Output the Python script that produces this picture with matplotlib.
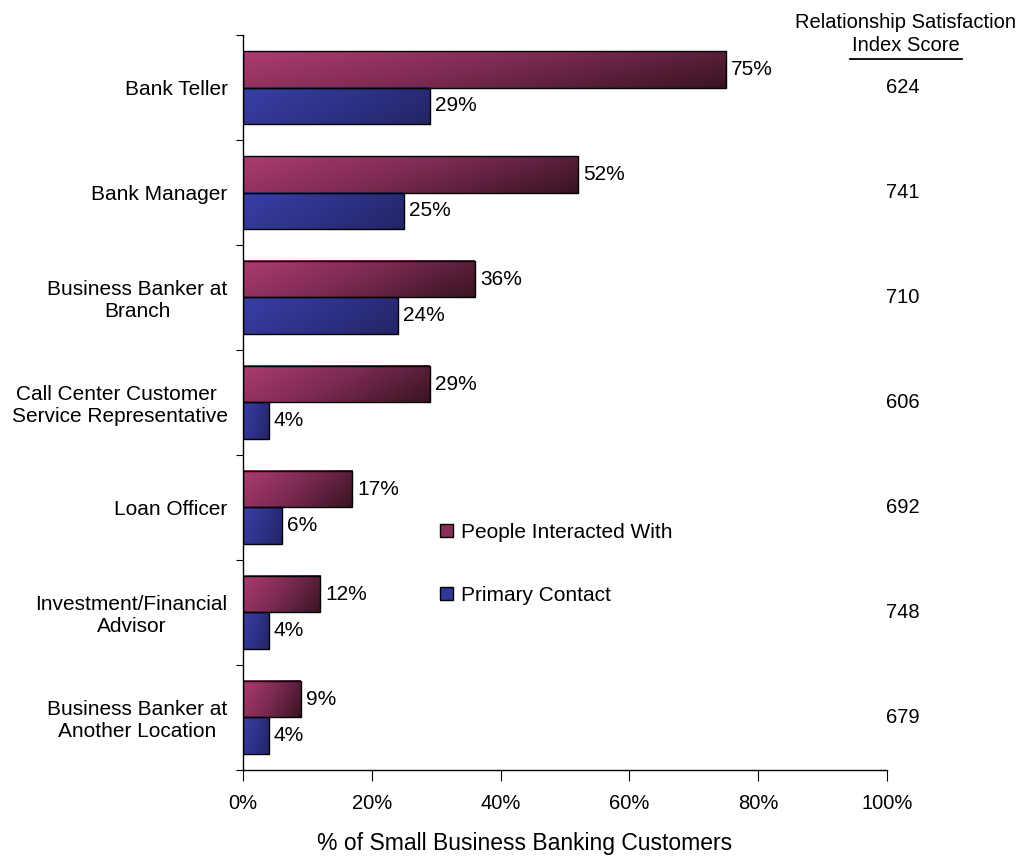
import numpy as np
import matplotlib
matplotlib.use("Agg")
import matplotlib.pyplot as plt
from matplotlib.colors import LinearSegmentedColormap
from matplotlib.patches import Patch

plt.rcParams['font.family'] = ['Liberation Sans', 'DejaVu Sans']

categories = ["Bank Teller", "Bank Manager", "Business Banker at\nBranch",
              "Call Center Customer \nService Representative", "Loan Officer",
              "Investment/Financial\nAdvisor", "Business Banker at\nAnother Location"]
people = [75, 52, 36, 29, 17, 12, 9]
primary = [29, 25, 24, 4, 6, 4, 4]
scores = [624, 741, 710, 606, 692, 748, 679]
xticks = [0, 20, 40, 60, 80, 100]

mag_cmap = LinearSegmentedColormap.from_list("mag", ["#ab3b70", "#7a2a50", "#3a1424"])
blue_cmap = LinearSegmentedColormap.from_list("blu", ["#393fa6", "#2e3288", "#242567"])

fig = plt.figure(figsize=(10.26, 8.56), dpi=100)
ax = fig.add_axes([0.2368, 0.1005, 0.6277, 0.8586])

n = len(categories)
ypos = np.arange(n)[::-1]
h = 0.345

gx, gy = np.meshgrid(np.linspace(0, 1, 64), np.linspace(0, 1, 16))
grad = 0.75 * gx + 0.25 * (1 - gy)


def grad_bar(x, yc, cmap):
    ax.imshow(grad, extent=[0, x, yc - h / 2, yc + h / 2], origin='lower',
              aspect='auto', cmap=cmap, vmin=0, vmax=1, zorder=2)
    ax.barh(yc, x, height=h, facecolor='none', edgecolor='black',
            linewidth=1.0, zorder=3)


for i in range(n):
    ym = ypos[i] + h / 2
    yb = ypos[i] - h / 2
    grad_bar(people[i], ym, mag_cmap)
    grad_bar(primary[i], yb, blue_cmap)
    ax.text(people[i] + 0.8, ym, f"{people[i]}%", va='center', ha='left', fontsize=15)
    ax.text(primary[i] + 0.8, yb, f"{primary[i]}%", va='center', ha='left', fontsize=15)

ax.set_xlim(0, 100)
ax.set_ylim(-0.5, n - 0.5)

for s in ['top', 'right']:
    ax.spines[s].set_visible(False)
ax.spines['left'].set_linewidth(1.0)
ax.spines['bottom'].set_linewidth(1.0)

ax.set_yticks(np.arange(n + 1) - 0.5)
ax.set_yticklabels([])
ax.set_yticks(ypos, minor=True)
ax.set_yticklabels(categories, minor=True, fontsize=15, multialignment='center')
ax.tick_params(axis='y', which='major', direction='out', length=5)
ax.tick_params(axis='y', which='minor', length=0, pad=11)

ax.set_xticks(xticks)
ax.set_xticklabels([f"{t}%" for t in xticks], fontsize=14.5)
ax.tick_params(axis='x', direction='out', length=8, pad=9)
ax.set_xlabel("% of Small Business Banking Customers", fontsize=16.5, labelpad=14)
ax.xaxis.label.set_x(0.438)

# satisfaction index column
for s, yy in zip(scores, ypos):
    ax.text(102.4, yy, str(s), ha='center', va='center', fontsize=14.5, clip_on=False)
fig.text(0.883, 0.974, "Relationship Satisfaction", ha='center', va='center', fontsize=14.5)
fig.text(0.883, 0.947, "Index Score", ha='center', va='center', fontsize=14.5)
fig.add_artist(plt.Line2D([0.828, 0.938], [0.931, 0.931], color='black', linewidth=1.3))

handles = [Patch(facecolor='#8a2f5c', edgecolor='black', label='People Interacted With'),
           Patch(facecolor='#30369a', edgecolor='black', label='Primary Contact')]
ax.legend(handles=handles, loc='upper left', bbox_to_anchor=(0.411, 0.411),
          bbox_transform=fig.transFigure, frameon=False, fontsize=15,
          handlelength=0.6, handleheight=0.6, handletextpad=0.4, labelspacing=2.1)

fig.savefig("out.png", dpi=100)
